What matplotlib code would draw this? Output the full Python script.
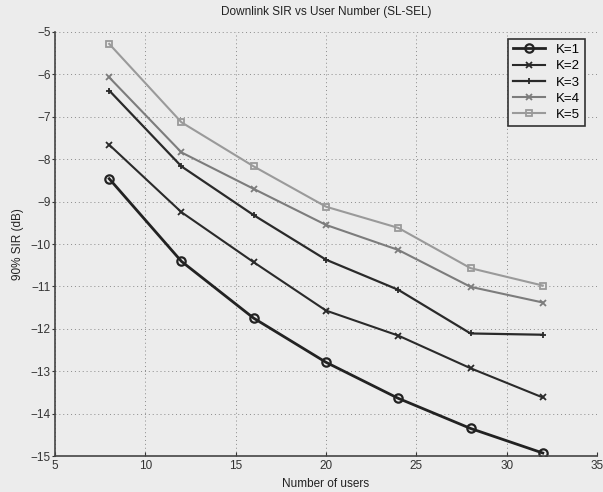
import matplotlib
matplotlib.use("Agg")
import matplotlib.pyplot as plt

plt.rcParams['font.family'] = ['Liberation Sans', 'DejaVu Sans']

users = [8, 12, 16, 20, 24, 28, 32]
sir_k1 = [-8.46, -10.41, -11.75, -12.79, -13.64, -14.35, -14.93]
sir_k2 = [-7.66, -9.25, -10.43, -11.57, -12.16, -12.93, -13.62]
sir_k3 = [-6.38, -8.17, -9.32, -10.37, -11.08, -12.11, -12.14]
sir_k4 = [-6.07, -7.84, -8.70, -9.55, -10.14, -11.01, -11.38]
sir_k5 = [-5.28, -7.13, -8.17, -9.12, -9.62, -10.57, -10.98]
labels = ['K=1', 'K=2', 'K=3', 'K=4', 'K=5']

bg = '#ececec'
fig = plt.figure(figsize=(6.03, 4.92), dpi=100, facecolor=bg)
ax = fig.add_axes([55/603, 36/492, 542/603, 424/492], facecolor=bg)

styles = [
    dict(color='#222222', marker='o', lw=2.0, ms=6, mfc='none', mew=1.6),
    dict(color='#2a2a2a', marker='x', lw=1.5, ms=4, mew=1.3),
    dict(color='#2a2a2a', marker='+', lw=1.6, ms=5, mew=1.3),
    dict(color='#7c7c7c', marker='x', lw=1.5, ms=4, mew=1.3),
    dict(color='#9a9a9a', marker='s', lw=1.5, ms=5, mfc='none', mew=1.3),
]
for vals, lab, st in zip([sir_k1, sir_k2, sir_k3, sir_k4, sir_k5], labels, styles):
    ax.plot(users, vals, label=lab, **st)

ax.set_xlim(5, 35)
ax.set_ylim(-15, -5)
ax.set_xticks(range(5, 36, 5))
ax.set_yticks(range(-15, -4))
ax.grid(True, linestyle=(0, (1, 3)), color='#8a8a8a', lw=0.7)

for side in ('top', 'right'):
    ax.spines[side].set_visible(False)
for side in ('left', 'bottom'):
    ax.spines[side].set_color('#444444')
    ax.spines[side].set_linewidth(1.2)

ax.tick_params(axis='x', direction='in', length=3, pad=3, labelsize=8.5, colors='#333333')
ax.tick_params(axis='y', direction='out', length=2, pad=1, labelsize=8.5, colors='#333333')

ax.set_xlabel('Number of users', fontsize=8.5, color='#222222', labelpad=4)
ax.set_ylabel('90% SIR (dB)', fontsize=8.5, color='#222222', labelpad=5)
ax.set_title('Downlink SIR vs User Number (SL-SEL)', fontsize=8.5, color='#222222', pad=12)

leg = ax.legend(loc='upper right', bbox_to_anchor=(0.99, 1.0), fontsize=9.5,
                frameon=True, fancybox=False, framealpha=1, edgecolor='#333333',
                handlelength=2.4, borderpad=0.4, labelspacing=0.3)
leg.get_frame().set_facecolor(bg)
leg.get_frame().set_linewidth(1.2)

fig.savefig('out.png', dpi=100, facecolor=bg)
